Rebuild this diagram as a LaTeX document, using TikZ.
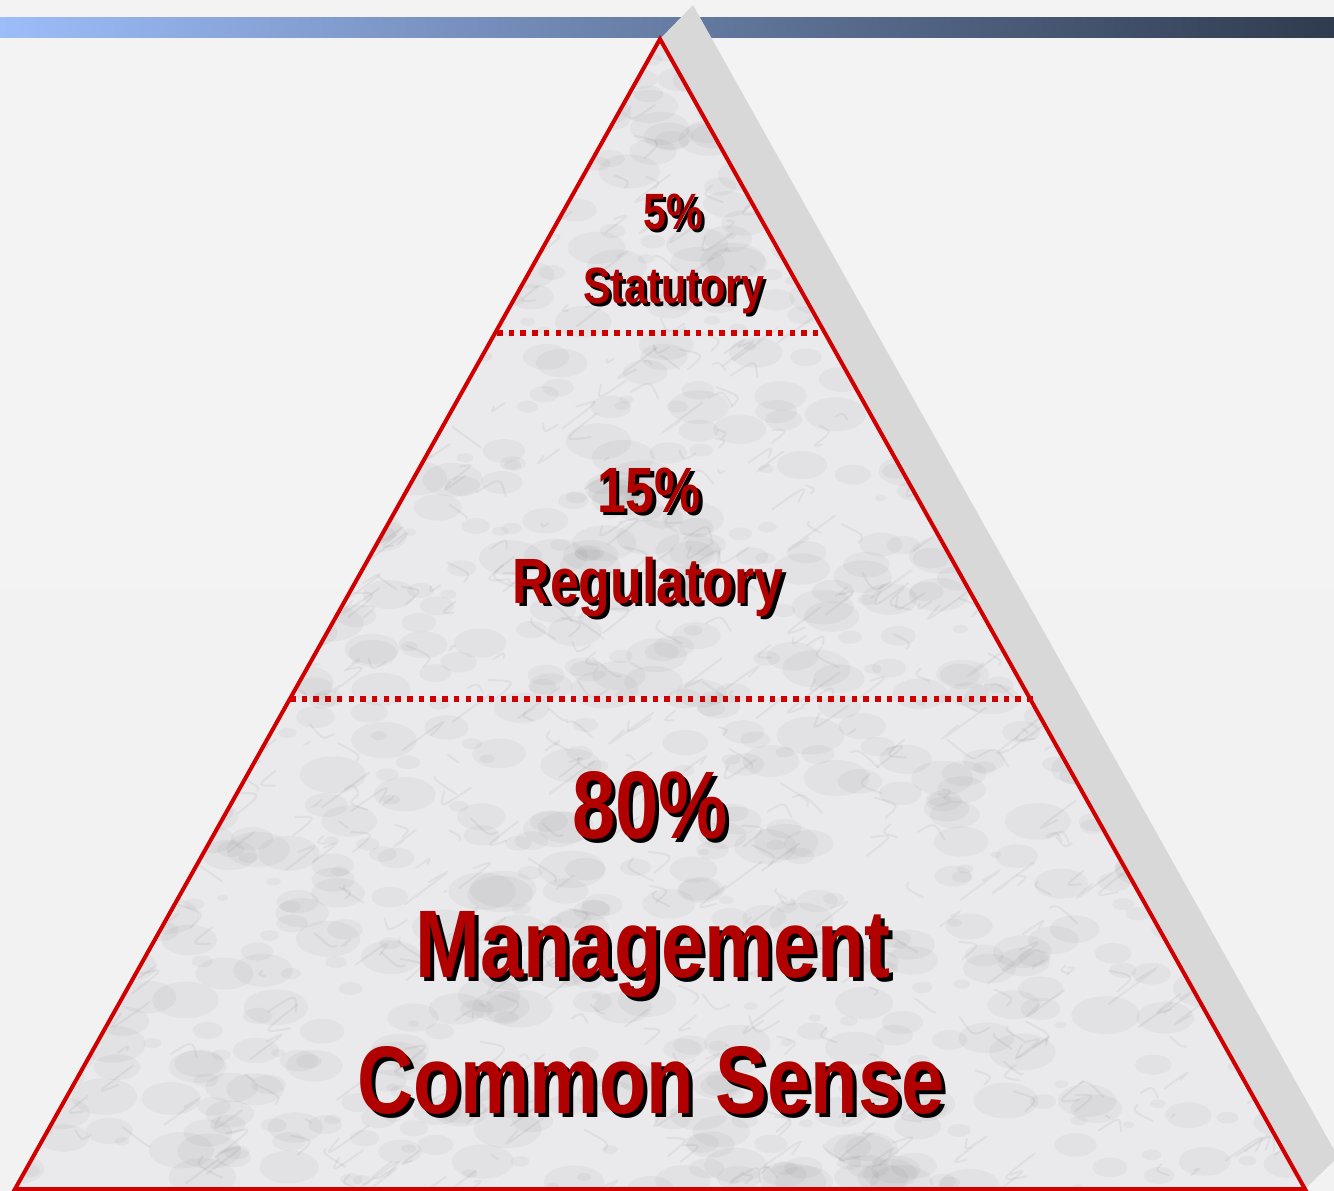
\documentclass[tikz,border=0pt]{standalone}
\usepackage{fontspec}
\newfontfamily\pyrfont[FakeStretch=0.81]{Liberation Sans}
\definecolor{bgtop}{RGB}{243,243,243}
\definecolor{bgmid}{RGB}{226,226,226}
\definecolor{bgbot}{RGB}{242,242,242}
\definecolor{barleft}{RGB}{157,189,249}
\definecolor{barright}{RGB}{47,59,78}
\definecolor{sidegray}{RGB}{216,216,216}
\definecolor{marble}{RGB}{234,234,236}
\definecolor{edgered}{RGB}{208,0,0}
\definecolor{txtred}{RGB}{176,0,0}

% label with a black drop shadow
\newcommand{\pyrtext}[6]{%
  \node[pyrlabel, text=black, font=\pyrfont\bfseries\fontsize{#4}{#4}\selectfont]
    (#1-sh) at ($(#2,#3)+(#5,#5)$) {#6};
  \node[pyrlabel, text=txtred, font=\pyrfont\bfseries\fontsize{#4}{#4}\selectfont]
    (#1) at (#2,#3) {#6};}

\usetikzlibrary{calc}

\begin{document}
\begin{tikzpicture}[x=1pt,y=-1pt,
    pyrlabel/.style={anchor=base, inner sep=0pt},
    tierline/.style={draw=edgered, line width=6pt, dash pattern=on 5.5pt off 6.2pt}]
    \useasboundingbox (0,0) rectangle (1334,1191);

    % background and title bar
    \shade[top color=bgtop, middle color=bgmid, bottom color=bgbot] (0,0) rectangle (1334,1191);
    \shade[left color=barleft, right color=barright] (0,17) rectangle (1334,37);

    \coordinate (apex) at (660,39);
    \coordinate (bl) at (15,1189);
    \coordinate (br) at (1305,1189);

    % side face
    \fill[sidegray] (apex) -- (693,5) -- (1338,1157) -- (br) -- cycle;

    % marble face
    \begin{scope}
        \clip (apex) -- (br) -- (bl) -- cycle;
        \fill[marble] (apex) -- (br) -- (bl) -- cycle;
        \pgfmathsetseed{7}
        \foreach \i in {1,...,1200} {
            \pgfmathsetmacro\mx{rnd*1334}
            \pgfmathsetmacro\my{40+rnd*1150}
            \pgfmathsetmacro\mr{3+rnd*16}
            \fill[black, opacity=0.03] (\mx,\my) ellipse ({\mr*1.8} and \mr);
        }
        \foreach \i in {1,...,900} {
            \pgfmathsetmacro\mx{rnd*1334}
            \pgfmathsetmacro\my{40+rnd*1150}
            \pgfmathsetmacro\dx{rand*30}
            \pgfmathsetmacro\dy{rand*20}
            \draw[black!55, opacity=0.09, line width=2pt, line cap=round]
                (\mx,\my) .. controls ++(\dx,\dy) .. ++(\dy*1.5,\dx*0.8);
        }
    \end{scope}
    \draw[edgered, line width=4pt, line join=miter] (apex) -- (br) -- (bl) -- cycle;

    % tier borders
    \draw[tierline] (497,333) -- (818,333);
    \draw[tierline] (290,699) -- (1038,699);

    % labels
    \pyrtext{top}{673}{229}{51}{3}{5\%}
    \pyrtext{stat}{674}{303}{51}{3}{Statutory}
    \pyrtext{mid}{649}{512}{64}{3.5}{15\%}
    \pyrtext{reg}{648}{603}{64}{3.5}{Regulatory}
    \pyrtext{low}{650}{838}{96}{4}{80\%}
    \pyrtext{mgmt}{653}{977}{96}{4}{Management}
    \pyrtext{sense}{651}{1113}{96}{4}{Common Sense}
\end{tikzpicture}
\end{document}
